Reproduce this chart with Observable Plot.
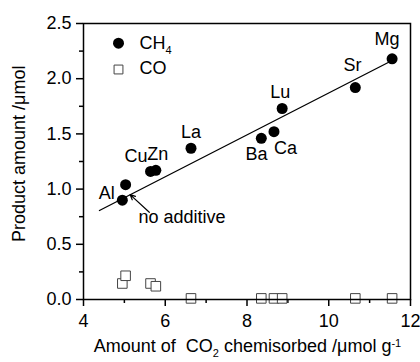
<!DOCTYPE html>
<html><head><meta charset="utf-8">
<script src="https://cdn.jsdelivr.net/npm/d3@7"></script>
<script src="https://cdn.jsdelivr.net/npm/@observablehq/plot@0.6"></script>
<style>
body{margin:0;background:#fff;}
#chart svg text{font-family:"Liberation Sans",Arial,sans-serif;}
</style></head><body><div id="chart"></div>
<script>
// Data
const additives      = ["Al", "none", "Cu", "Zn", "La", "Ba", "Ca", "Lu", "Sr", "Mg"];
const co2Chemisorbed = [4.95, 5.03, 5.64, 5.77, 6.63, 8.35, 8.66, 8.86, 10.65, 11.55];
const ch4Amount      = [0.90, 1.04, 1.16, 1.17, 1.37, 1.46, 1.52, 1.73, 1.92, 2.18];
const coAmount       = [0.145, 0.215, 0.145, 0.12, 0.01, 0.01, 0.01, 0.01, 0.01, 0.01];
const fitX = [4.39, 11.55];
const fitY = [0.806, 2.165];
const noteArrow = {x1: 5.61, y1: 0.79, x2: 5.14, y2: 0.95};
const noteLabel = {x: 6.41, y: 0.745, text: "no additive"};
const xTicks = [4, 6, 8, 10, 12];
const xMinorTicks = [5, 7, 9, 11];
const yTicks = [0, 0.5, 1.0, 1.5, 2.0, 2.5];
const yMinorTicks = [0.25, 0.75, 1.25, 1.75, 2.25];
const legendNames = ["CH_{4}", "CO"];
const xTitle = "Amount of  CO_{2} chemisorbed /\u03bcmol g^{-1}";
const yTitle = "Product amount /\u03bcmol";

const rows = additives.map((name, i) => ({name, x: co2Chemisorbed[i], ch4: ch4Amount[i], co: coAmount[i]}));
const fit = fitX.map((x, i) => ({x, y: fitY[i]}));

const lbl = (name, dx, dy) => Plot.text(rows.filter(d => d.name === name),
  {x: "x", y: "ch4", text: "name", dx, dy, fill: "#000"});

const chart = Plot.plot({
  width: 420, height: 362,
  marginLeft: 83, marginRight: 10, marginTop: 23, marginBottom: 63,
  style: {fontSize: "18px", fontFamily: "'Liberation Sans', Arial, sans-serif", background: "#fff", color: "#000"},
  x: {domain: [4, 12], label: null},
  y: {domain: [0, 2.5], label: null},
  marks: [
    Plot.axisX(xTicks, {tickSize: 7, tickPadding: 8, strokeWidth: 1.5, label: null, tickFormat: d => String(d)}),
    Plot.axisX(xMinorTicks, {tickSize: 4, strokeWidth: 1.5, label: null, tickFormat: () => ""}),
    Plot.axisY(yTicks, {tickSize: 7, tickPadding: 5, strokeWidth: 1.5, label: null, tickFormat: d3.format(".1f")}),
    Plot.axisY(yMinorTicks, {tickSize: 4, strokeWidth: 1.5, label: null, tickFormat: () => ""}),
    Plot.line(fit, {x: "x", y: "y", stroke: "#000", strokeWidth: 1.3}),
    Plot.dot(rows, {x: "x", y: "co", symbol: "square", r: 5.4, fill: "#fff", stroke: "#444", strokeWidth: 1}),
    Plot.dot(rows, {x: "x", y: "ch4", r: 5.5, fill: "#000"}),
    lbl("Al", -15.5, -7),
    lbl("Cu", -14.5, -15.2),
    lbl("Zn", 1.8, -16.4),
    lbl("La", 0, -16),
    lbl("Ba", -4.8, 15.5),
    lbl("Ca", 11.5, 16.2),
    lbl("Lu", -2, -16),
    lbl("Sr", -2.7, -21.8),
    lbl("Mg", -5.2, -19.1),
    Plot.arrow([noteArrow], {x1: "x1", y1: "y1", x2: "x2", y2: "y2", stroke: "#000", strokeWidth: 1.2, headLength: 7, headAngle: 50}),
    Plot.text([noteLabel], {x: "x", y: "y", text: "text", fill: "#000"}),
    // legend
    Plot.dot([0], {frameAnchor: "top-left", dx: 35, dy: 19.7, r: 5.5, fill: "#000"}),
    Plot.dot([0], {frameAnchor: "top-left", dx: 35, dy: 46, r: 5.0, symbol: "square", fill: "#fff", stroke: "#444", strokeWidth: 1}),
    Plot.text([legendNames[0]], {frameAnchor: "top-left", text: d => d, textAnchor: "start", lineAnchor: "middle", dx: 56, dy: 19.5, fill: "#000"}),
    Plot.text([legendNames[1]], {frameAnchor: "top-left", text: d => d, textAnchor: "start", lineAnchor: "middle", dx: 56, dy: 45, fill: "#000"}),
    // axis titles
    Plot.text([xTitle], {frameAnchor: "bottom", text: d => d, textAnchor: "middle", lineAnchor: "middle", dy: 46.3, dx: 0.5, fill: "#000"}),
    Plot.text([yTitle], {frameAnchor: "left", text: d => d, textAnchor: "middle", lineAnchor: "middle", rotate: -90, dx: -64, dy: -7.7, fill: "#000"}),
    Plot.frame({stroke: "#000", strokeWidth: 1.5})
  ]
});

// render _{sub} and ^{sup} as real tspans
const ns = "http://www.w3.org/2000/svg";
chart.querySelectorAll("text").forEach(t => {
  t.setAttribute("font-family", "Liberation Sans, Arial, sans-serif");
  const s = t.textContent;
  if (!/[_^]\{/.test(s)) return;
  while (t.firstChild) t.removeChild(t.firstChild);
  const re = /([_^])\{([^}]*)\}/g;
  let last = 0, m, shift = 0;
  const add = (txt, dy, small) => {
    const sp = document.createElementNS(ns, "tspan");
    sp.textContent = txt;
    if (dy) sp.setAttribute("dy", dy);
    if (small) sp.setAttribute("font-size", "11px");
    t.appendChild(sp);
  };
  while ((m = re.exec(s))) {
    if (m.index > last) { add(s.slice(last, m.index), shift ? -shift : 0, false); shift = 0; }
    const d = m[1] === "_" ? 5.5 : -5;
    add(m[2], d - shift, true);
    shift = d;
    last = re.lastIndex;
  }
  if (last < s.length) add(s.slice(last), shift ? -shift : 0, false);
  t.setAttribute("xml:space", "preserve");
  t.style.whiteSpace = "pre";
});

document.getElementById("chart").appendChild(chart);
</script>
</body></html>
